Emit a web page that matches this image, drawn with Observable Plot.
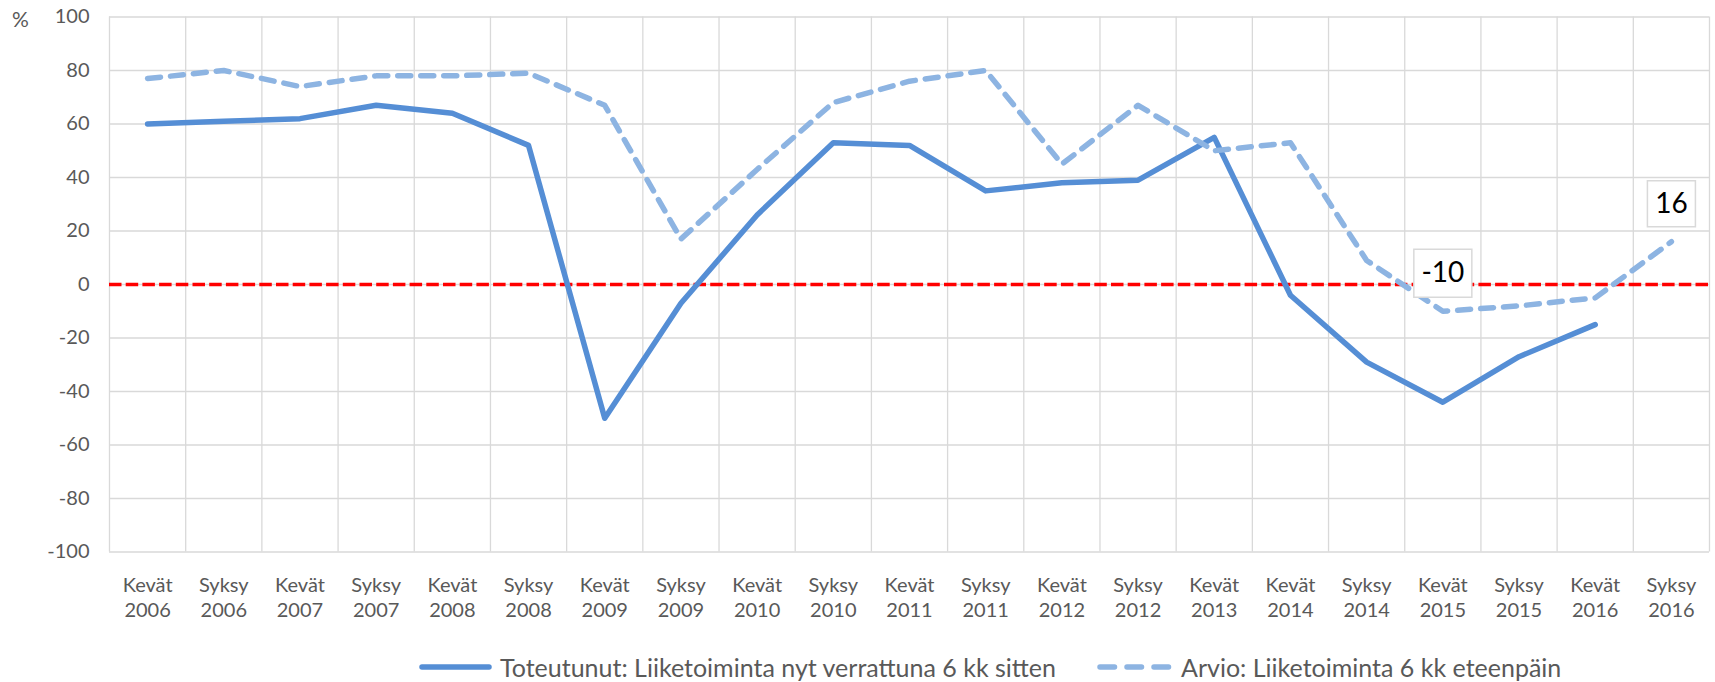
<!DOCTYPE html>
<html><head><meta charset="utf-8">
<script src="https://cdn.jsdelivr.net/npm/d3@7"></script>
<script src="https://cdn.jsdelivr.net/npm/@observablehq/plot@0.6"></script>
<style>
body{margin:0;background:#fff;font-family:Lato,sans-serif;}
#wrap{position:relative;width:1715px;height:682px;overflow:hidden;}
.leg{position:absolute;top:652px;height:30px;display:flex;align-items:center;font-size:25px;color:#595959;white-space:nowrap;}
.leg svg{margin-right:8px;}
</style></head><body><div id="wrap"></div>
<script>
const categories = ["Kevät 2006","Syksy 2006","Kevät 2007","Syksy 2007","Kevät 2008","Syksy 2008","Kevät 2009","Syksy 2009","Kevät 2010","Syksy 2010","Kevät 2011","Syksy 2011","Kevät 2012","Syksy 2012","Kevät 2013","Kevät 2014","Syksy 2014","Kevät 2015","Syksy 2015","Kevät 2016","Syksy 2016"];
const toteutunut = [60,61,62,67,64,52,-50,-7,26,53,52,35,38,39,55,-4,-29,-44,-27,-15,null];
const arvio = [77,80,74,78,78,79,67,17,43,68,76,80,45,67,50,53,9,-10,-8,-5,16];
const yTicks = [-100,-80,-60,-40,-20,0,20,40,60,80,100];
const labelled = ["Kevät 2015","Syksy 2016"];
const seriesNames = ["Toteutunut: Liiketoiminta nyt verrattuna 6 kk sitten","Arvio: Liiketoiminta 6 kk eteenpäin"];

const rows = categories.map((c,i)=>({i, c, t: toteutunut[i], a: arvio[i]}));
const labRows = rows.filter(d => labelled.includes(d.c));
const boxSymbol = (w,h) => ({draw(ctx){ctx.moveTo(-w/2,-h/2);ctx.lineTo(w/2,-h/2);ctx.lineTo(w/2,h/2);ctx.lineTo(-w/2,h/2);ctx.closePath();}});

const chart = Plot.plot({
  width: 1715, height: 640,
  marginLeft: 109, marginRight: 6, marginTop: 16.5, marginBottom: 88.5,
  style: {fontFamily: "Lato, sans-serif", color: "#595959", background: "white"},
  x: {type: "linear", domain: [-0.5, categories.length - 0.5]},
  y: {domain: [-100, 100]},
  marks: [
    Plot.ruleX(d3.range(categories.length + 1), {x: d => d - 0.5, stroke: "#D9D9D9", strokeWidth: 1.3, strokeOpacity: 1}),
    Plot.ruleY(yTicks, {stroke: "#D9D9D9", strokeWidth: 1.3, strokeOpacity: 1}),
    Plot.ruleY([0], {stroke: "#FF0000", strokeWidth: 3.5, strokeDasharray: "12.5,4.2"}),
    Plot.line(rows.filter(d => d.t != null), {x: "i", y: "t", stroke: "#558ED5", strokeWidth: 5.5, strokeLinejoin: "round", strokeLinecap: "round"}),
    Plot.line(rows, {x: "i", y: "a", stroke: "#8DB4E2", strokeWidth: 5.5, strokeDasharray: "13,10", strokeLinejoin: "round", strokeLinecap: "round"}),
    Plot.dot(labRows.filter(d => String(d.a).length > 2), {x: "i", y: "a", dy: -38, symbol: boxSymbol(58, 48), fill: "white", stroke: "#D9D9D9", strokeWidth: 1.5}),
    Plot.dot(labRows.filter(d => String(d.a).length <= 2), {x: "i", y: "a", dy: -38, symbol: boxSymbol(48, 46), fill: "white", stroke: "#D9D9D9", strokeWidth: 1.5}),
    Plot.text(labRows, {x: "i", y: "a", dy: -38, text: d => String(d.a), fontSize: 28, fill: "black"}),
    Plot.axisX(d3.range(categories.length), {tickSize: 0, tickPadding: 22, tickFormat: i => categories[i].replace(" ", "\n"), fontSize: 20, lineHeight: 1.25, label: null}),
    Plot.axisY(yTicks, {tickSize: 0, tickPadding: 20, fontSize: 20, tickFormat: d => String(d), label: null}),
    Plot.text(["%"], {frameAnchor: "top-left", dx: -89, dy: 3, fontSize: 21, textAnchor: "middle", lineAnchor: "middle", fill: "#595959"})
  ]
});
const wrap = document.getElementById("wrap");
wrap.appendChild(chart);

function legItem(left, name, dashed){
  const d = document.createElement("div");
  d.className = "leg";
  d.style.left = left + "px";
  const w = dashed ? 76 : 73;
  d.innerHTML = `<svg width="${w}" height="24"><line x1="3" x2="${w-3}" y1="12" y2="12" stroke="${dashed ? "#8DB4E2" : "#558ED5"}" stroke-width="5.5" stroke-linecap="round" ${dashed ? 'stroke-dasharray="14.5,12.5"' : ""}/></svg><span>${name}</span>`;
  wrap.appendChild(d);
}
legItem(419, seriesNames[0], false);
legItem(1097, seriesNames[1], true);
</script></body></html>
